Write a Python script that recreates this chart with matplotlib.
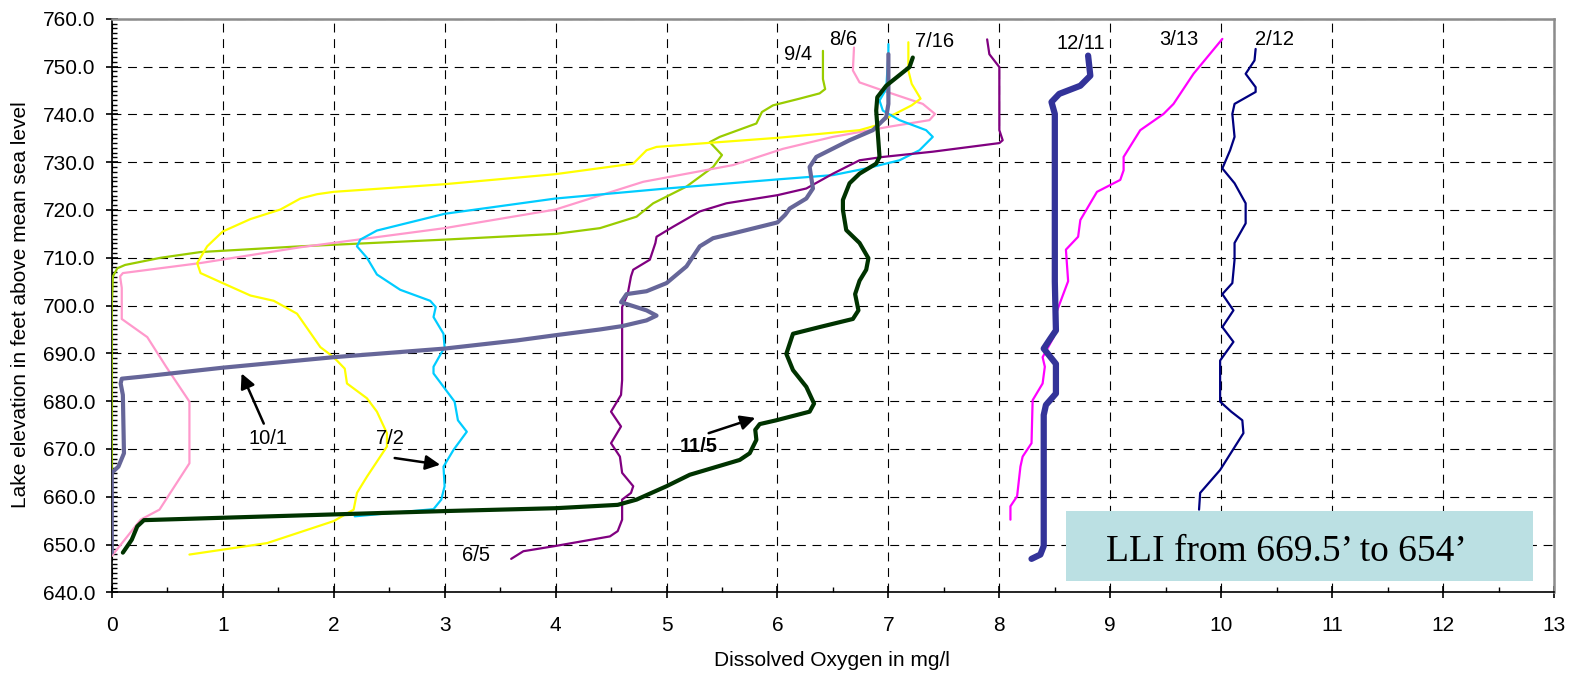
import matplotlib
matplotlib.use('Agg')
import matplotlib.pyplot as plt
from matplotlib.patches import Rectangle
from matplotlib.ticker import MultipleLocator, FormatStrFormatter

plt.rcParams['font.family'] = ['Liberation Sans', 'DejaVu Sans']

# dissolved oxygen (mg/l) vs lake elevation (ft)
do_0904 = [0.0, 0.0, 0.01, 0.05, 0.12, 0.44, 0.8, 1.7, 3.0, 4.0, 4.4, 4.73, 4.88, 5.18, 5.42, 5.5,
           5.39, 5.48, 5.81, 5.86, 5.96, 6.2, 6.38, 6.43, 6.41, 6.41]
el_0904 = [647.6, 700, 706.1, 707.8, 708.5, 710, 711.2, 712.4, 713.8, 715, 716.2, 718.6, 721.4, 724.9,
           729.0, 731.5, 734.2, 735.3, 738.1, 740.5, 741.9, 743.3, 744.4, 745.3, 747.4, 753.3]

do_0806 = [0.0, 0.26, 0.43, 0.7, 0.7, 0.49, 0.32, 0.09, 0.09, 0.075, 0.1, 0.8, 1.7, 3.0, 4.0, 4.79,
           5.6, 6.05, 6.5, 7.0, 7.37, 7.42, 7.31, 6.95, 6.74, 6.68, 6.69]
el_0806 = [647.6, 655.2, 657.3, 667, 679.9, 687.2, 693.4, 697.2, 703.7, 706.1, 706.8, 708.9, 712.2,
           716.2, 720.1, 725.9, 729.4, 732.8, 735.3, 737.4, 738.8, 740.1, 742.2, 745, 746.7, 749.2, 754]

do_0716 = [0.7, 1.4, 2.0, 2.18, 2.21, 2.3, 2.48, 2.48, 2.39, 2.3, 2.12, 2.1, 2.0, 1.88, 1.67, 1.46,
           1.25, 1.0, 0.8, 0.77, 0.86, 1.0, 1.25, 1.52, 1.7, 1.85, 2.0, 3.0, 4.0, 4.7, 4.82, 4.91, 5.3,
           6.0, 6.74, 6.89, 7.0, 7.21, 7.29, 7.21, 7.18, 7.18]
el_0716 = [647.9, 650.3, 654.9, 657.3, 660.8, 664.2, 670.5, 673.3, 677.8, 680.6, 683.7, 686.8, 689.2,
           691.3, 698.3, 701, 702.1, 704.7, 706.8, 708.9, 712.4, 715.5, 718.1, 720.1, 722.4, 723.3,
           723.8, 725.4, 727.5, 729.7, 732.5, 733.2, 733.9, 735.1, 736.7, 737.7, 739.4, 741.9, 743.3,
           746.4, 749.2, 755.1]

do_0702 = [2.19, 2.9, 2.97, 3.0, 2.99, 3.08, 3.2, 3.12, 3.09, 2.9, 2.9, 3.0, 2.99, 2.9, 2.92, 2.87,
           2.6, 2.39, 2.3, 2.21, 2.24, 2.39, 3.0, 4.0, 5.0, 6.0, 6.5, 6.8, 7.1, 7.28, 7.4, 7.34, 7.1,
           6.95, 6.92, 6.98, 7.0, 7.0]
el_0702 = [655.9, 657.4, 659.4, 662.2, 666.3, 669.8, 673.6, 676, 679.9, 685.8, 687.2, 691.3, 694.1,
           697.6, 699.7, 701, 703.3, 706.5, 710, 712.4, 713.8, 715.7, 719.2, 722.4, 724.5, 726.4,
           727.3, 728.7, 730.4, 732.5, 735.3, 736.7, 738.8, 740.8, 742.9, 745.3, 752.6, 754.7]

do_0605 = [3.6, 3.71, 4.0, 4.49, 4.56, 4.6, 4.6, 4.68, 4.7, 4.6, 4.58, 4.5, 4.59, 4.5, 4.59, 4.6, 4.6,
           4.65, 4.68, 4.7, 4.85, 4.9, 4.91, 5.06, 5.3, 5.54, 6.0, 6.26, 6.5, 6.74, 6.95, 7.4, 8.0,
           8.03, 8.0, 8.0, 7.91, 7.89]
el_0605 = [647, 648.6, 649.7, 651.7, 652.8, 655.2, 659.4, 660.8, 662.2, 665, 668.4, 671.2, 674.7,
           677.8, 681.3, 684.4, 699.7, 702.4, 706.1, 707.5, 709.6, 713.1, 714.4, 716.5, 719.7, 721.4,
           723.1, 724.5, 727.6, 730.4, 731.1, 732.2, 734.0, 734.6, 736.7, 749.9, 752.6, 755.7]

do_1001 = [0.0, 0.0, 0.06, 0.11, 0.1, 0.08, 0.09, 0.26, 1.0, 2.0, 3.0, 3.65, 4.0, 4.4, 4.6, 4.82, 4.91,
           4.82, 4.59, 4.64, 4.82, 5.0, 5.18, 5.3, 5.42, 5.6, 6.0, 6.07, 6.11, 6.26, 6.32, 6.29, 6.35,
           6.65, 6.86, 6.98, 7.0, 7.0]
el_1001 = [648.3, 665, 666.3, 669.1, 681.3, 683.7, 684.7, 685.1, 687, 689.2, 691, 692.7, 693.8, 695.0,
           695.7, 696.9, 697.9, 699, 700.7, 702.4, 703, 704.7, 708.2, 712.4, 714.1, 715.1, 717.4, 719,
           720.3, 722.4, 724.5, 729, 731.1, 734.6, 736.7, 739.4, 742.2, 752.6]

do_1105 = [0.1, 0.18, 0.23, 0.29, 1.0, 3.0, 4.0, 4.56, 4.73, 5.0, 5.21, 5.66, 5.75, 5.81, 5.8, 5.84,
           5.99, 6.29, 6.33, 6.26, 6.14, 6.08, 6.14, 6.38, 6.68, 6.73, 6.7, 6.74, 6.8, 6.82, 6.74, 6.62,
           6.59, 6.59, 6.65, 6.74, 6.89, 6.92, 6.89, 6.9, 6.98, 7.19, 7.22]
el_1105 = [648.3, 651, 653.8, 655.1, 655.6, 657, 657.6, 658.3, 659.4, 662.2, 664.6, 667.7, 669.1,
           671.9, 674, 675.2, 676, 677.8, 679.5, 683, 686.5, 689.9, 694.1, 695.5, 697.2, 699, 702.4,
           705.2, 707.5, 709.9, 713.1, 715.8, 720, 722.1, 725.6, 727.6, 729.7, 731.1, 740.8, 743.6,
           746, 749.9, 751.9]

do_1211 = [8.29, 8.37, 8.4, 8.4, 8.42, 8.51, 8.51, 8.4, 8.46, 8.51, 8.5, 8.5, 8.47, 8.54, 8.73, 8.82, 8.8]
el_1211 = [647, 647.9, 649.7, 677.1, 679.2, 681.6, 687.8, 691, 693.1, 694.8, 705, 740.1, 742.6, 744.3,
           746, 748.1, 752.3]

do_0313 = [8.1, 8.1, 8.16, 8.19, 8.21, 8.29, 8.3, 8.39, 8.41, 8.39, 8.49, 8.51, 8.62, 8.6, 8.71, 8.73,
           8.88, 9.09, 9.12, 9.12, 9.27, 9.48, 9.57, 9.75, 10.01]
el_0313 = [655.2, 658, 660.1, 666.3, 668.4, 671.2, 680.2, 683.7, 687.2, 689.2, 693.4, 698.3, 705.1,
           711.7, 714.4, 717.9, 723.8, 726.3, 728.3, 731.1, 736.7, 740.1, 742.2, 748.5, 755.8]

do_0212 = [9.8, 9.81, 9.99, 10.2, 10.19, 10.09, 9.99, 9.99, 10.11, 10.01, 10.11, 10.01, 10.1, 10.12,
           10.12, 10.22, 10.22, 10.12, 10.01, 10.08, 10.12, 10.1, 10.12, 10.31, 10.31, 10.22, 10.3, 10.31]
el_0212 = [657.3, 660.8, 665.6, 673.3, 676, 677.8, 679.9, 688.5, 692.4, 695.5, 699, 702.4, 704.7,
           709.6, 713.1, 717.2, 721.4, 725.6, 728.7, 732.5, 735.3, 740.1, 742.2, 744.7, 745.7, 748.5,
           751.3, 753.7]

fig = plt.figure(figsize=(15.72, 6.75), dpi=100)
ax = fig.add_axes([0.0711, 0.1225, 0.9175, 0.8496])

series = [
    (do_0904, el_0904, '#99CC00', 1.6),
    (do_0806, el_0806, '#FF99CC', 1.6),
    (do_0716, el_0716, '#FFFF00', 1.6),
    (do_0702, el_0702, '#00CCFF', 1.6),
    (do_0605, el_0605, '#800080', 1.6),
    (do_1001, el_1001, '#666699', 3.0),
    (do_1105, el_1105, '#003300', 3.0),
    (do_0313, el_0313, '#FF00FF', 1.6),
    (do_1211, el_1211, '#333399', 4.5),
    (do_0212, el_0212, '#000080', 1.6),
]
for xs, ys, c, lw in series:
    ax.plot(xs, ys, color=c, lw=lw, solid_joinstyle='round', solid_capstyle='round', zorder=3)

ax.set_xlim(0, 13)
ax.set_ylim(640, 760)
ax.xaxis.set_major_locator(MultipleLocator(1))
ax.xaxis.set_minor_locator(MultipleLocator(0.5))
ax.yaxis.set_major_locator(MultipleLocator(10))
ax.yaxis.set_minor_locator(MultipleLocator(1))
ax.yaxis.set_major_formatter(FormatStrFormatter('%.1f'))
ax.tick_params(which='major', direction='inout', length=8, width=1.2, labelsize=15, colors='black')
ax.tick_params(axis='x', which='major', pad=13)
ax.tick_params(axis='y', which='major', pad=8)
ax.tick_params(which='minor', direction='in', length=3.5, width=1)
ax.grid(True, which='major', color='black', linestyle=(0, (8, 6)), linewidth=0.8, zorder=1)
ax.set_axisbelow(True)
for s in ['top', 'right']:
    ax.spines[s].set_color('#8c8c8c')
    ax.spines[s].set_linewidth(1.8)
for s in ['left', 'bottom']:
    ax.spines[s].set_color('black')
    ax.spines[s].set_linewidth(1.2)

fig.text(832 / 1572, 1 - 661 / 675, 'Dissolved Oxygen in mg/l', fontsize=15, ha='center', va='center')
fig.text(21 / 1572, 1 - 305 / 675, 'Lake elevation in feet above mean sea level', fontsize=15,
         rotation=90, ha='center', va='center')

# date labels at the top of the profiles
top_labels = [('9/4', 6.19, 752.6), ('8/6', 6.59, 755.6), ('7/16', 7.42, 755.3),
              ('12/11', 8.73, 754.9), ('3/13', 9.62, 755.6), ('2/12', 10.48, 755.6)]
for t, x, y in top_labels:
    ax.text(x, y, t, fontsize=14.5, ha='center', va='center', zorder=6)

ax.text(3.28, 647.6, '6/5', fontsize=14.5, ha='center', va='center', zorder=6)
ax.text(1.41, 672.2, '10/1', fontsize=14.5, ha='center', va='center', zorder=6)
ax.text(2.51, 672.2, '7/2', fontsize=14.5, ha='center', va='center', zorder=6)
ax.text(5.29, 670.5, '11/5', fontsize=14.5, fontweight='bold', ha='center', va='center', zorder=6)

arrows = [((1.17, 685.8), (1.37, 675.3)), ((2.96, 666.7), (2.55, 668.1)), ((5.8, 676.5), (5.38, 673.3))]
for head, tail in arrows:
    ax.annotate('', xy=head, xytext=tail,
                arrowprops=dict(arrowstyle='-|>', color='black', lw=1.8, mutation_scale=22,
                                shrinkA=0, shrinkB=0), zorder=6)

ax.add_patch(Rectangle((8.6, 642.4), 4.21, 14.7, facecolor='#BBE0E3', edgecolor='none', zorder=5))
ax.text(10.59, 646.5, 'LLI from 669.5\u2019 to 654\u2019', fontsize=27, family='Liberation Serif',
        ha='center', va='baseline', zorder=6)

fig.savefig('out.png', dpi=100)
